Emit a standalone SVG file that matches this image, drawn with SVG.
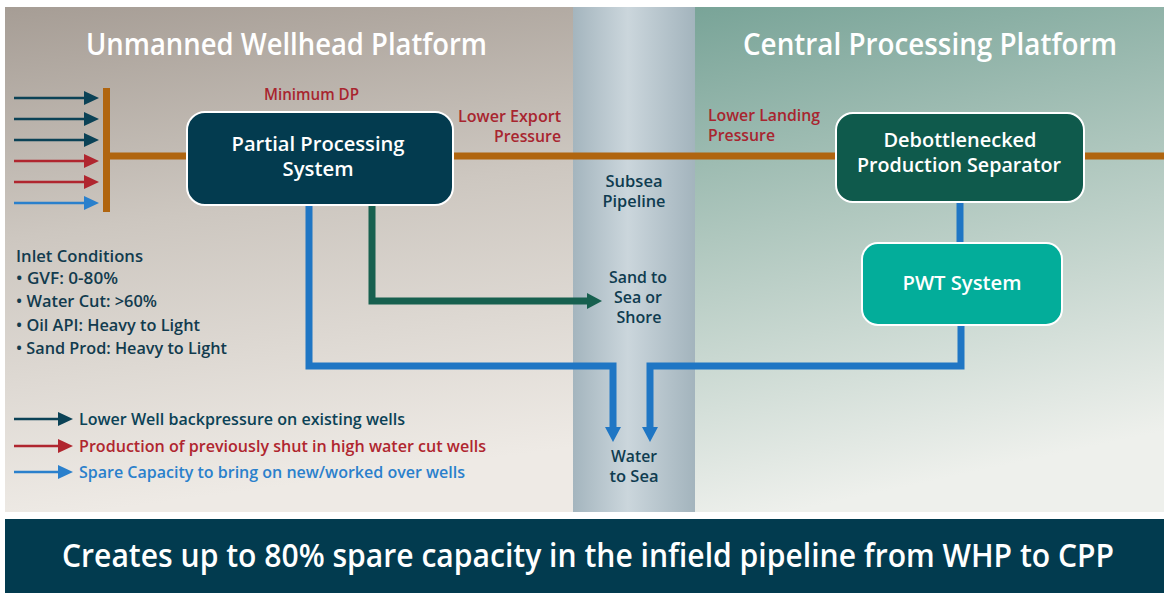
<svg xmlns="http://www.w3.org/2000/svg" width="1164" height="593" viewBox="0 0 1164 593">
  <defs>
    <linearGradient id="bgLeft" x1="0" y1="0" x2="0.15" y2="1">
      <stop offset="0" stop-color="#a69d95"/>
      <stop offset="0.45" stop-color="#cdc7c0"/>
      <stop offset="1" stop-color="#eeeae5"/>
    </linearGradient>
    <linearGradient id="bgRight" x1="0" y1="0" x2="0.2" y2="1">
      <stop offset="0" stop-color="#79a498"/>
      <stop offset="0.45" stop-color="#afc7be"/>
      <stop offset="1" stop-color="#eef0ec"/>
    </linearGradient>
    <linearGradient id="subsea" x1="0" y1="0" x2="1" y2="0">
      <stop offset="0" stop-color="#a4b5be"/>
      <stop offset="0.45" stop-color="#cbd6dc"/>
      <stop offset="1" stop-color="#a3b4bd"/>
    </linearGradient>
    <marker id="headNavy" markerUnits="userSpaceOnUse" markerWidth="15" markerHeight="14" viewBox="0 0 15 14" refX="2" refY="7" orient="auto">
      <path d="M0,0 L15,7 L0,14 z" fill="#0b4256"/>
    </marker>
    <marker id="headRed" markerUnits="userSpaceOnUse" markerWidth="15" markerHeight="14" viewBox="0 0 15 14" refX="2" refY="7" orient="auto">
      <path d="M0,0 L15,7 L0,14 z" fill="#b0262f"/>
    </marker>
    <marker id="headBlue" markerUnits="userSpaceOnUse" markerWidth="15" markerHeight="14" viewBox="0 0 15 14" refX="2" refY="7" orient="auto">
      <path d="M0,0 L15,7 L0,14 z" fill="#2a80cc"/>
    </marker>
    <marker id="pipeBlue" markerUnits="userSpaceOnUse" markerWidth="15" markerHeight="16" viewBox="0 0 15 16" refX="3" refY="8" orient="auto">
      <path d="M0,0 L15,8 L0,16 z" fill="#1f76c4"/>
    </marker>
    <marker id="pipeGreen" markerUnits="userSpaceOnUse" markerWidth="15" markerHeight="16" viewBox="0 0 15 16" refX="3" refY="8" orient="auto">
      <path d="M0,0 L15,8 L0,16 z" fill="#17604f"/>
    </marker>
  </defs>
  <style>
    text { font-family: "Open Sans", "Noto Sans", "Liberation Sans", sans-serif; }
    .title { font-size: 31px; font-weight: 600; fill: #ffffff; }
    .box-label { font-size: 20px; font-weight: 600; fill: #ffffff; text-anchor: middle; }
    .note-red { font-size: 16px; font-weight: 600; fill: #a8252f; }
    .note-dark { font-size: 16px; font-weight: 600; fill: #0f3c50; }
    .mid { text-anchor: middle; }
    .inlet { font-size: 16px; font-weight: 600; fill: #123b4e; }
    .legend { font-size: 16px; font-weight: 600; }
    .thin { stroke-width: 2.5; fill: none; }
    .pipe { stroke-width: 7; fill: none; stroke-linejoin: miter; }
    .box { stroke: #ffffff; stroke-width: 2; }
  </style>

  <!-- background zones -->
  <rect x="5" y="7" width="568" height="505" fill="url(#bgLeft)"/>
  <rect x="695" y="7" width="469" height="505" fill="url(#bgRight)"/>
  <rect x="573" y="7" width="122" height="505" fill="url(#subsea)"/>

  <!-- platform titles -->
  <text class="title" x="86" y="55" textLength="401" lengthAdjust="spacingAndGlyphs">Unmanned Wellhead Platform</text>
  <text class="title" x="743" y="55" textLength="374" lengthAdjust="spacingAndGlyphs">Central Processing Platform</text>

  <!-- connectors -->
  <g id="connectors">
    <!-- incoming wells -->
    <line class="thin" x1="14" y1="98" x2="86" y2="98" stroke="#0b4256" marker-end="url(#headNavy)"/>
    <line class="thin" x1="14" y1="119" x2="86" y2="119" stroke="#0b4256" marker-end="url(#headNavy)"/>
    <line class="thin" x1="14" y1="140" x2="86" y2="140" stroke="#0b4256" marker-end="url(#headNavy)"/>
    <line class="thin" x1="14" y1="161" x2="86" y2="161" stroke="#b0262f" marker-end="url(#headRed)"/>
    <line class="thin" x1="14" y1="182" x2="86" y2="182" stroke="#b0262f" marker-end="url(#headRed)"/>
    <line class="thin" x1="14" y1="203" x2="86" y2="203" stroke="#2a80cc" marker-end="url(#headBlue)"/>
    <!-- manifold and export line -->
    <rect x="103" y="88" width="7" height="124" fill="#b0650f"/>
    <line x1="110" y1="156" x2="1164" y2="156" stroke="#b0650f" stroke-width="7"/>
    <!-- sand route -->
    <path class="pipe" d="M372,205 V301 H590" stroke="#17604f" marker-end="url(#pipeGreen)"/>
    <!-- water routes -->
    <path class="pipe" d="M309,205 V366 H613 V430" stroke="#1f76c4" marker-end="url(#pipeBlue)"/>
    <path class="pipe" d="M960,202 V243" stroke="#1f76c4"/>
    <path class="pipe" d="M961,325 V366 H650 V430" stroke="#1f76c4" marker-end="url(#pipeBlue)"/>
  </g>

  <!-- nodes -->
  <g id="partial-processing">
    <rect class="box" x="187" y="112" width="266" height="93" rx="18" fill="#033b4f"/>
    <text class="box-label" x="318" y="151" textLength="173" lengthAdjust="spacingAndGlyphs">Partial Processing</text>
    <text class="box-label" x="318" y="176" textLength="71" lengthAdjust="spacingAndGlyphs">System</text>
  </g>
  <g id="production-separator">
    <rect class="box" x="836" y="113" width="248" height="89" rx="17" fill="#0f5a4c"/>
    <text class="box-label" x="960" y="147" textLength="153" lengthAdjust="spacingAndGlyphs">Debottlenecked</text>
    <text class="box-label" x="959" y="172" textLength="204" lengthAdjust="spacingAndGlyphs">Production Separator</text>
  </g>
  <g id="pwt-system">
    <rect class="box" x="862" y="243" width="200" height="82" rx="16" fill="#03ad9a"/>
    <text class="box-label" x="962" y="290" textLength="119" lengthAdjust="spacingAndGlyphs">PWT System</text>
  </g>

  <!-- pressure notes -->
  <g id="pressure-notes">
    <text class="note-red" x="264" y="100" textLength="95" lengthAdjust="spacingAndGlyphs">Minimum DP</text>
    <text class="note-red" x="561" y="122" text-anchor="end" textLength="103" lengthAdjust="spacingAndGlyphs">Lower Export</text>
    <text class="note-red" x="561" y="142" text-anchor="end" textLength="67" lengthAdjust="spacingAndGlyphs">Pressure</text>
    <text class="note-red" x="708" y="121" textLength="112" lengthAdjust="spacingAndGlyphs">Lower Landing</text>
    <text class="note-red" x="708" y="141" textLength="67" lengthAdjust="spacingAndGlyphs">Pressure</text>
  </g>

  <!-- subsea labels -->
  <g id="subsea-labels">
    <text class="note-dark mid" x="634" y="187" textLength="57" lengthAdjust="spacingAndGlyphs">Subsea</text>
    <text class="note-dark mid" x="634" y="207" textLength="63" lengthAdjust="spacingAndGlyphs">Pipeline</text>
    <text class="note-dark mid" x="638" y="283" textLength="58" lengthAdjust="spacingAndGlyphs">Sand to</text>
    <text class="note-dark mid" x="638" y="303" textLength="48" lengthAdjust="spacingAndGlyphs">Sea or</text>
    <text class="note-dark mid" x="639" y="323" textLength="45" lengthAdjust="spacingAndGlyphs">Shore</text>
    <text class="note-dark mid" x="634" y="462" textLength="46" lengthAdjust="spacingAndGlyphs">Water</text>
    <text class="note-dark mid" x="634" y="482" textLength="49" lengthAdjust="spacingAndGlyphs">to Sea</text>
  </g>

  <!-- inlet conditions -->
  <g id="inlet-conditions">
    <text class="inlet" x="16" y="262" font-weight="700" textLength="127" lengthAdjust="spacingAndGlyphs">Inlet Conditions</text>
    <text class="inlet" x="16" y="284" textLength="102" lengthAdjust="spacingAndGlyphs">• GVF: 0-80%</text>
    <text class="inlet" x="16" y="307" textLength="141" lengthAdjust="spacingAndGlyphs">• Water Cut: &gt;60%</text>
    <text class="inlet" x="16" y="331" textLength="184" lengthAdjust="spacingAndGlyphs">• Oil API: Heavy to Light</text>
    <text class="inlet" x="16" y="354" textLength="211" lengthAdjust="spacingAndGlyphs">• Sand Prod: Heavy to Light</text>
  </g>

  <!-- legend -->
  <g id="legend">
    <line class="thin" x1="14" y1="419" x2="60" y2="419" stroke="#0b4256" marker-end="url(#headNavy)"/>
    <text class="legend" x="79" y="425" fill="#0b4256" textLength="326" lengthAdjust="spacingAndGlyphs">Lower Well backpressure on existing wells</text>
    <line class="thin" x1="14" y1="446" x2="60" y2="446" stroke="#b0262f" marker-end="url(#headRed)"/>
    <text class="legend" x="79" y="452" fill="#b0262f" textLength="407" lengthAdjust="spacingAndGlyphs">Production of previously shut in high water cut wells</text>
    <line class="thin" x1="14" y1="472" x2="60" y2="472" stroke="#2a80cc" marker-end="url(#headBlue)"/>
    <text class="legend" x="79" y="478" fill="#2a80cc" textLength="386" lengthAdjust="spacingAndGlyphs">Spare Capacity to bring on new/worked over wells</text>
  </g>

  <!-- summary banner -->
  <g id="banner">
    <rect x="5" y="519" width="1159" height="74" fill="#023b4f"/>
    <text x="62" y="567" font-size="32" font-weight="600" fill="#ffffff" textLength="1052" lengthAdjust="spacingAndGlyphs">Creates up to 80% spare capacity in the infield pipeline from WHP to CPP</text>
  </g>
</svg>
